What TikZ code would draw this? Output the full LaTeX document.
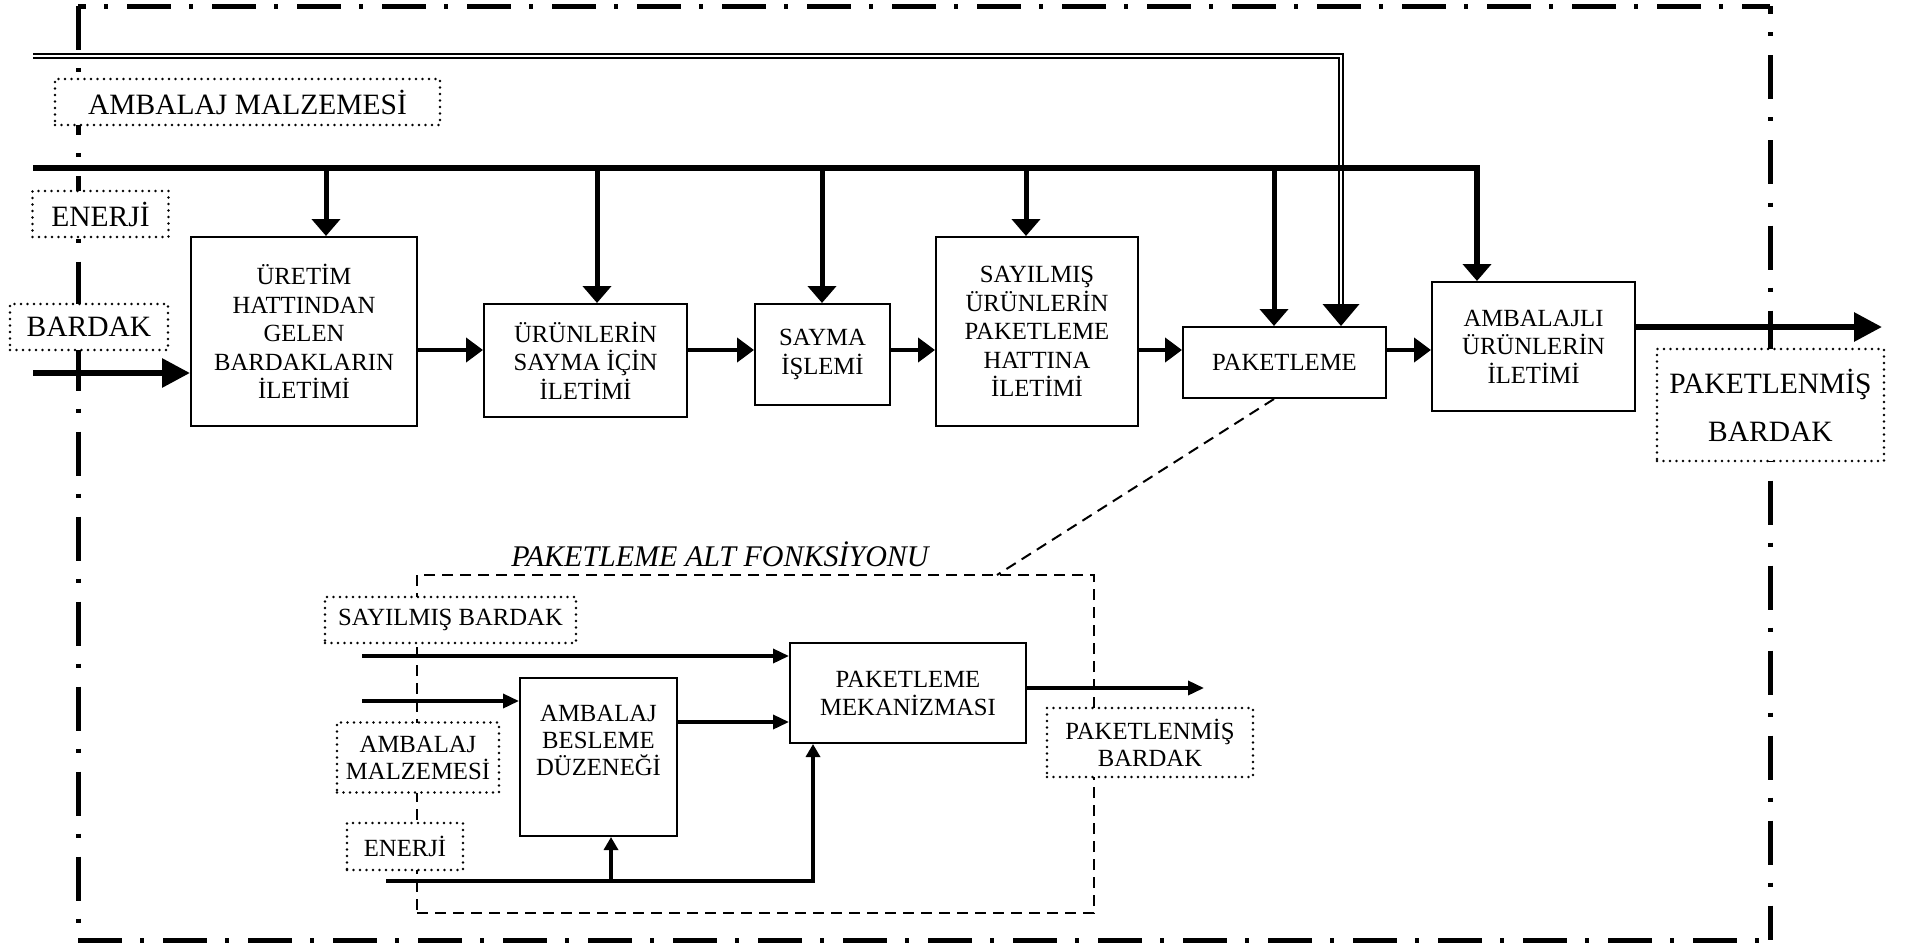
\documentclass[tikz,border=0pt]{standalone}
\usepackage{fontspec}
\setmainfont{Liberation Serif}
\usetikzlibrary{arrows.meta,calc}
\newcommand{\fMain}{\fontsize{24.7}{28.5}\selectfont}
\newcommand{\fLbl}{\fontsize{29.5}{34}\selectfont}
\begin{document}
\begin{tikzpicture}[x=1pt,y=-1pt,
 blk/.style={draw, line width=2pt, fill=white, align=center, inner sep=0pt, font=\fMain},
 lbl/.style={draw, line width=2.8pt, dash pattern=on 0pt off 6.5pt, line cap=round, fill=white, inner sep=0pt, align=center, font=\fLbl},
 lbls/.style={lbl, font=\fMain},
 frm/.style={line width=5pt, dash pattern=on 44pt off 18pt on 4pt off 19pt},
 bus/.style={line width=5.5pt},
 drp/.style={line width=5pt, -{Triangle[length=17pt,width=28pt]}},
 flw/.style={line width=4.5pt, -{Triangle[length=17pt,width=24pt]}},
 big/.style={line width=6pt, -{Triangle[length=28pt,width=28pt]}},
 dbl/.style={double, double distance=2.5pt, line width=2pt},
 sfl/.style={line width=3.5pt, -{Triangle[length=16pt,width=14pt]}},
 upar/.style={line width=3.5pt, -{Triangle[length=13pt,width=14pt]}},
 dsh/.style={line width=2pt, dash pattern=on 11pt off 7pt},
]
\fill[white] (0,0) rectangle (1910,944);
\useasboundingbox (0,0) rectangle (1910,944);

% frame
\draw[frm] (78,6.5) -- (78,940);
\draw[frm, dash phase=36pt] (78,6.5) -- (1770,6.5);
\draw[frm, dash phase=36pt] (1770,6.5) -- (1770,940);
\draw[frm] (78,940) -- (1770,940);

% main boxes
\node[blk, minimum width=226pt, minimum height=189pt] (b1) at (304,331.5) {ÜRETİM\\HATTINDAN\\GELEN\\BARDAKLARIN\\İLETİMİ};
\node[blk, minimum width=203pt, minimum height=113pt] (b2) at (585.5,360.5) {ÜRÜNLERİN\\SAYMA İÇİN\\İLETİMİ};
\node[blk, minimum width=135pt, minimum height=101pt] (b3) at (822.5,354.5) {SAYMA\\İŞLEMİ};
\node[blk, minimum width=202pt, minimum height=189pt] (b4) at (1037,331.5) {SAYILMIŞ\\ÜRÜNLERİN\\PAKETLEME\\HATTINA\\İLETİMİ};
\node[blk, minimum width=203pt, minimum height=71pt] (b5) at (1284.5,362.5) {PAKETLEME};
\node[blk, minimum width=203pt, minimum height=129pt] (b6) at (1533.5,346.5) {AMBALAJLI\\ÜRÜNLERİN\\İLETİMİ};

% coordinates
\coordinate (amIn) at (33,56);
\coordinate (dX) at (1341,0);
\coordinate (enIn) at (33,168);
\coordinate (e1) at (326,168);
\coordinate (e2) at (597,168);
\coordinate (e3) at (822,168);
\coordinate (e4) at (1026,168);
\coordinate (e5) at (1274,168);
\coordinate (e6) at (1477,168);
\coordinate (baIn) at (33,373);
\coordinate (outEnd) at (1882,327);
\coordinate (rowy) at (0,350);

% packaging material double line
\draw[dbl] (amIn) -| ($(dX |- b5.north)+(0,-21)$);
\fill (dX |- b5.north) -- ++(-18.5,-22) -- ++(37,0) -- cycle;

% energy bus
\draw[bus, -{Triangle[length=17pt,width=28pt]}] (enIn) -| (b6.north -| e6);
\foreach \e/\b in {e1/b1,e2/b2,e3/b3,e4/b4,e5/b5}
  \draw[drp] (\e) -- (\e |- \b.north);

% flow
\draw[flw] (b1.east |- rowy) -- (b2.west |- rowy);
\draw[flw] (b2.east |- rowy) -- (b3.west |- rowy);
\draw[flw] (b3.east |- rowy) -- (b4.west |- rowy);
\draw[flw] (b4.east |- rowy) -- (b5.west |- rowy);
\draw[flw] (b5.east |- rowy) -- (b6.west |- rowy);
\draw[big] (baIn) -- (b1.west |- baIn);
\draw[big] (b6.east |- outEnd) -- (outEnd);

% top labels
\node[lbl, minimum width=385pt, minimum height=46pt] (lAm) at (247.5,102) {AMBALAJ MALZEMESİ};
\node[lbl, minimum width=136pt, minimum height=46pt] (lEn) at (100.5,214) {ENERJİ};
\node[lbl, minimum width=158pt, minimum height=46pt] (lBa) at (89,327) {BARDAK};
\node[lbl, minimum width=227pt, minimum height=112pt, font=\fontsize{29.5}{48}\selectfont] (lPB) at (1770.5,405) {PAKETLENMİŞ\\BARDAK};

% sub-function
\node[font=\fontsize{30}{34}\selectfont\itshape] (ttl) at (720,554) {PAKETLEME ALT FONKSİYONU};
\node[draw, dsh, minimum width=677pt, minimum height=338pt, inner sep=0pt] (sub) at (755.5,744) {};
\coordinate (dg) at (997,575);
\draw[dsh] (b5.south -| e5) -- (dg);

\node[blk, minimum width=236pt, minimum height=100pt, font=\fontsize{24.7}{28}\selectfont] (mek) at (908,693) {PAKETLEME\\MEKANİZMASI};
\node[blk, minimum width=157pt, minimum height=158pt] (bes) at (598.5,757) {};
\node[align=center, inner sep=0pt, font=\fontsize{24.7}{27}\selectfont] (bestx) at (598.5,740) {AMBALAJ\\BESLEME\\DÜZENEĞİ};

\coordinate (sIn) at (362,656);
\coordinate (aIn) at (362,701);
\coordinate (r3) at (0,722);
\coordinate (enIn2) at (386,881);
\coordinate (eX) at (813,881);
\coordinate (eB) at (611,881);
\coordinate (r4) at (0,688);
\coordinate (oEnd) at (1204,688);

\draw[sfl] (sIn) -- (mek.west |- sIn);
\draw[sfl] (aIn) -- (bes.west |- aIn);
\draw[sfl] (bes.east |- r3) -- (mek.west |- r3);
\draw[sfl] (mek.east |- r4) -- (oEnd);
\draw[upar] (enIn2) -- (eX) -- (eX |- mek.south);
\draw[upar] (eB) -- (eB |- bes.south);

\node[lbls, minimum width=251pt, minimum height=46pt] (lSB) at (450.5,620) {SAYILMIŞ BARDAK};
\node[lbls, minimum width=162pt, minimum height=70pt, font=\fontsize{24.7}{27}\selectfont] (lAM2) at (418,757.5) {AMBALAJ\\MALZEMESİ};
\node[lbls, minimum width=116pt, minimum height=47pt] (lEn2) at (405,846.5) {ENERJİ};
\node[lbls, minimum width=206pt, minimum height=69pt, font=\fontsize{24.7}{27}\selectfont] (lPB2) at (1150,742.5) {PAKETLENMİŞ\\BARDAK};
\end{tikzpicture}
\end{document}
